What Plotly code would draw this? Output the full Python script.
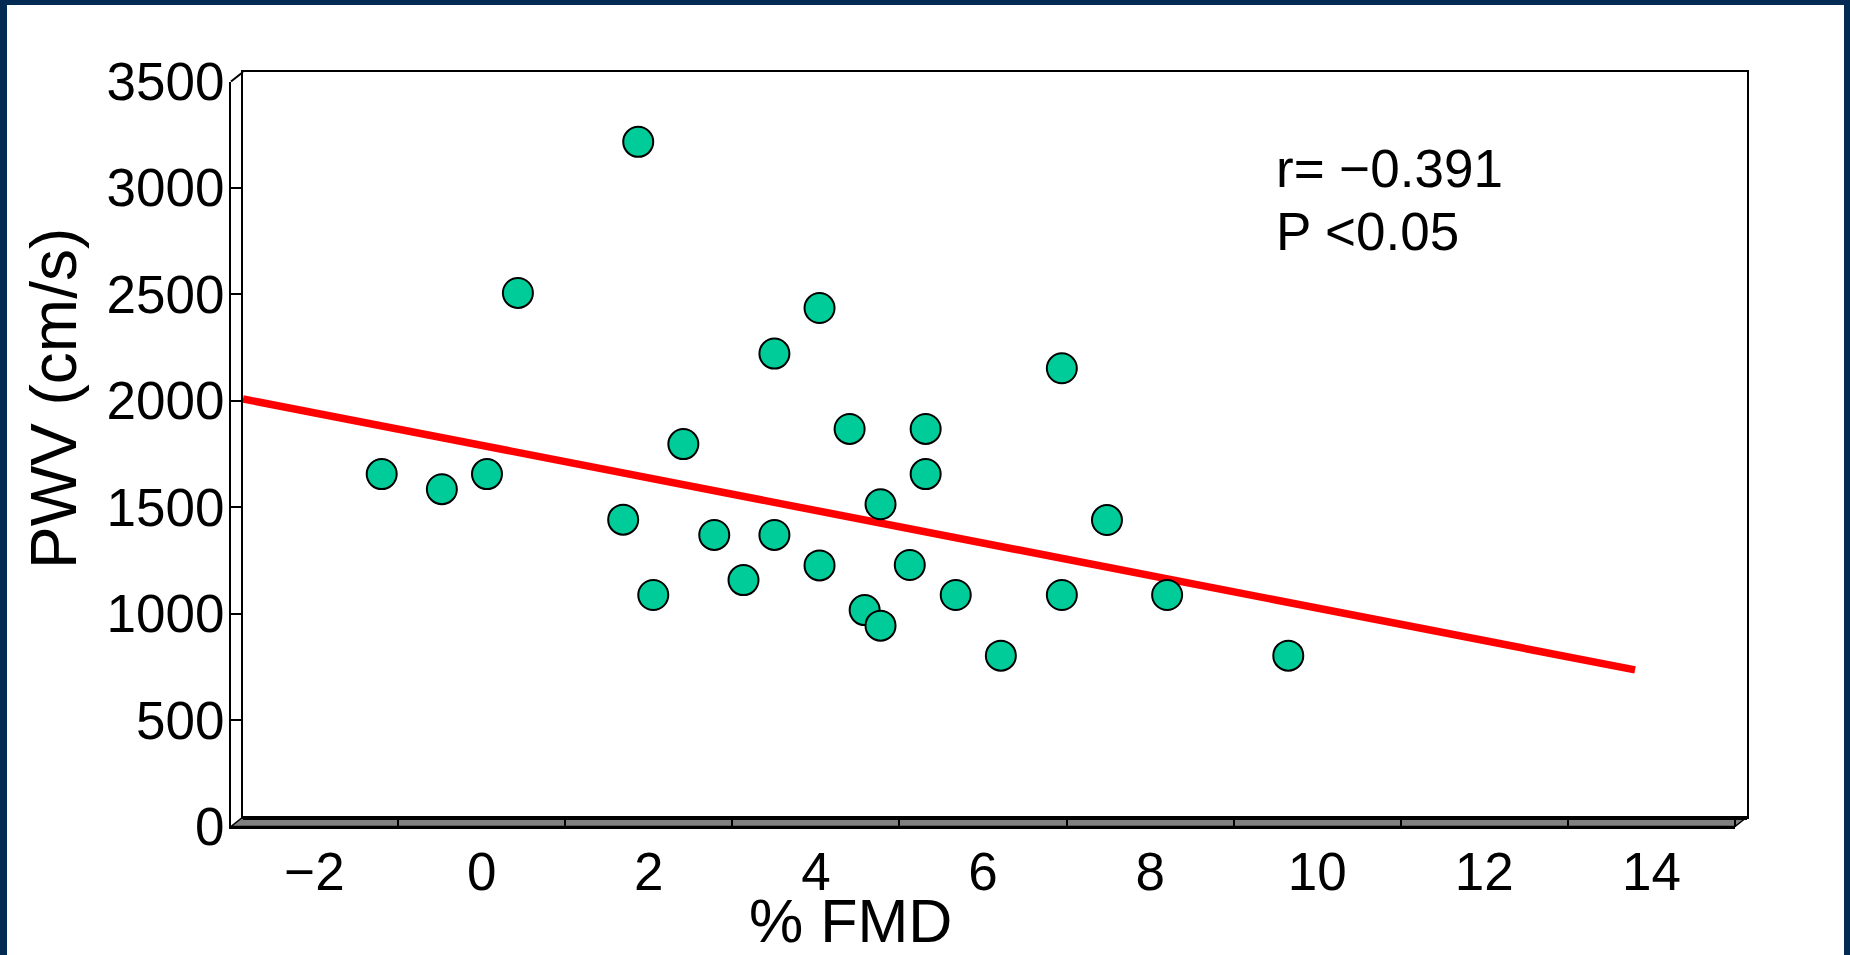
import plotly.graph_objects as go

W, H = 1850, 955

# % FMD vs PWV scatter values
fmd = [1.73, 0.29, 3.90, 3.36, 4.26, 2.27, -1.34, -0.62, -0.08, 4.63,
       1.55, 2.64, 3.36, 1.91, 2.99, 3.90, 4.44, 4.63, 6.80, 5.17,
       5.17, 7.34, 4.98, 5.53, 6.80, 8.06, 6.07, 9.51]
pwv = [3172, 2462, 2391, 2177, 1823, 1752, 1611, 1540, 1611, 1469,
       1397, 1325, 1325, 1043, 1113, 1182, 972, 899, 2108, 1823,
       1611, 1395, 1184, 1043, 1043, 1043, 758, 758]

# regression line end points
fit_fmd = [-3.0, 13.66]
fit_pwv = [1964, 691]

x_range = [-3, 15]
y_range = [0, 3500]
x_label_vals = [-2, 0, 2, 4, 6, 8, 10, 12, 14]
x_tick_vals = [-1, 1, 3, 5, 7, 9, 11, 13, 15]
y_tick_vals = [0, 500, 1000, 1500, 2000, 2500, 3000, 3500]

stats_lines = ["r= \u22120.391", "P <0.05"]
x_title = "% FMD"
y_title = "PWV (cm/s)"

FONT = "Liberation Sans, Arial, sans-serif"
NAVY = "#022a52"

# pixel geometry of the pseudo-3D frame: back plane and front (offset) plane
BX0, BX1, BTOP, BBOT = 243, 1747, 72, 817
DX, DY = 12, 9.5
FX0, FX1, FTOP, FBOT = BX0 - DX, BX1 - DX, BTOP + DY, BBOT + DY


def fx(px):
    return px / W


def fy(py):
    return 1 - py / H


fig = go.Figure()

fig.add_trace(go.Scatter(
    x=fit_fmd, y=fit_pwv, mode="lines",
    line=dict(color="#ff0000", width=7.5),
    xaxis="x", yaxis="y", hoverinfo="skip", showlegend=False,
))
fig.add_trace(go.Scatter(
    x=fmd, y=pwv, mode="markers",
    marker=dict(size=30, color="#00cc99", line=dict(color="black", width=2)),
    xaxis="x", yaxis="y", showlegend=False,
))
# empty trace so the front axes get their own subplot
fig.add_trace(go.Scatter(x=[], y=[], xaxis="x2", yaxis="y2",
                         showlegend=False, hoverinfo="skip"))

tick_font = dict(family=FONT, size=53, color="black")

shapes = []
# navy frame strips
for x0, y0, x1, y1 in [(0, 0, 7, H), (0, 0, W, 5), (1844, 0, W, H)]:
    shapes.append(dict(type="rect", xref="paper", yref="paper",
                       x0=fx(x0), x1=fx(x1), y0=fy(y0), y1=fy(y1),
                       fillcolor=NAVY, line=dict(width=0), layer="below"))
# floor slab
floor_path = "M {} {} L {} {} L {} {} L {} {} Z".format(
    fx(FX0), fy(FBOT), fx(FX1), fy(FBOT), fx(BX1), fy(BBOT), fx(BX0), fy(BBOT))
shapes.append(dict(type="path", xref="paper", yref="paper", path=floor_path,
                   fillcolor="#808080", line=dict(color="black", width=1.5),
                   layer="below"))
# heavy back edge of the floor
shapes.append(dict(type="line", xref="paper", yref="paper",
                   x0=fx(BX0), x1=fx(BX1), y0=fy(BBOT + 1), y1=fy(BBOT + 1),
                   line=dict(color="black", width=4), layer="below"))
# top bevel of the side wall
shapes.append(dict(type="line", xref="paper", yref="paper",
                   x0=fx(FX0), x1=fx(BX0), y0=fy(FTOP), y1=fy(BTOP),
                   line=dict(color="black", width=2), layer="above"))

annotations = [
    dict(text=stats_lines[0], x=fx(1274), y=fy(168.5), xref="paper", yref="paper",
         xanchor="left", yanchor="middle", showarrow=False,
         font=dict(family=FONT, size=53, color="black")),
    dict(text=stats_lines[1], x=fx(1274), y=fy(231.5), xref="paper", yref="paper",
         xanchor="left", yanchor="middle", showarrow=False,
         font=dict(family=FONT, size=53, color="black")),
    dict(text=x_title, x=fx(850), y=fy(921), xref="paper", yref="paper",
         xanchor="center", yanchor="middle", showarrow=False,
         font=dict(family=FONT, size=61, color="black")),
    dict(text=y_title, x=fx(54), y=fy(399), xref="paper", yref="paper",
         xanchor="center", yanchor="middle", showarrow=False, textangle=-90,
         font=dict(family=FONT, size=64, color="black")),
]

fig.update_layout(
    width=W, height=H,
    margin=dict(l=0, r=0, t=0, b=0, pad=0, autoexpand=False),
    paper_bgcolor="white",
    plot_bgcolor="rgba(0,0,0,0)",
    showlegend=False,
    xaxis=dict(domain=[fx(BX0), fx(BX1)], range=x_range, anchor="y",
               showline=True, mirror=True, linecolor="black", linewidth=2,
               ticks="", showticklabels=False, showgrid=False, zeroline=False,
               automargin=False),
    yaxis=dict(domain=[fy(BBOT), fy(BTOP)], range=y_range, anchor="x",
               showline=True, mirror=True, linecolor="black", linewidth=2,
               ticks="", showticklabels=False, showgrid=False, zeroline=False,
               automargin=False),
    xaxis2=dict(domain=[fx(FX0), fx(FX1)], range=x_range, anchor="y2",
                showline=True, linecolor="black", linewidth=2,
                tickmode="array", tickvals=x_label_vals, ticks="",
                tickfont=tick_font, ticklabelstandoff=-2,
                minor=dict(tickmode="array", tickvals=x_tick_vals, ticks="inside",
                           ticklen=11, tickwidth=1.5, tickcolor="black"),
                showgrid=False, zeroline=False, automargin=False),
    yaxis2=dict(domain=[fy(FBOT), fy(FTOP)], range=y_range, anchor="x2",
                showline=True, linecolor="black", linewidth=2,
                tickmode="array", tickvals=y_tick_vals, ticks="inside",
                ticklen=12, tickwidth=1.5, tickcolor="black",
                tickfont=tick_font, ticklabelstandoff=-6,
                showgrid=False, zeroline=False, automargin=False),
    shapes=shapes,
    annotations=annotations,
)

fig.write_html("out.html")
